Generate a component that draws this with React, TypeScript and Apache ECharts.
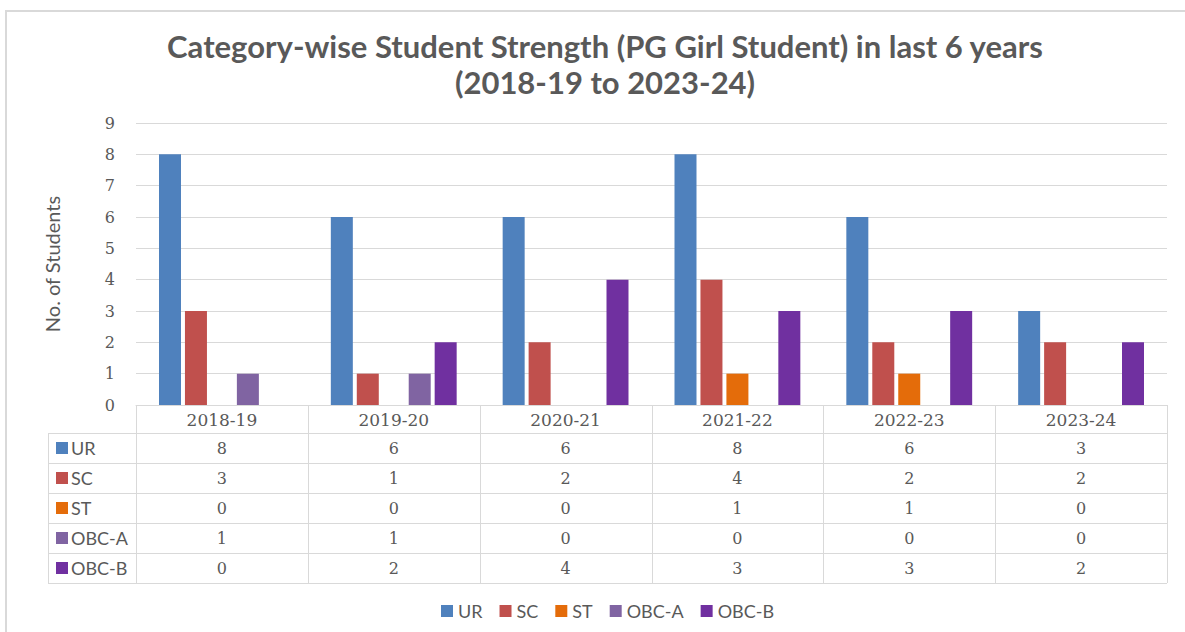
import React, { useEffect, useRef } from "react";
import * as echarts from "echarts";

const years = ["2018-19", "2019-20", "2020-21", "2021-22", "2022-23", "2023-24"];
const seriesNames = ["UR", "SC", "ST", "OBC-A", "OBC-B"];
const ur = [8, 6, 6, 8, 6, 3];
const sc = [3, 1, 2, 4, 2, 2];
const st = [0, 0, 0, 1, 1, 0];
const obcA = [1, 1, 0, 0, 0, 0];
const obcB = [0, 2, 4, 3, 3, 2];
const seriesColors = ["#4F81BD", "#C0504D", "#E46C0A", "#8064A2", "#7030A0"];
const yMin = 0;
const yMax = 9;
const yInterval = 1;

const W = 1185;
const H = 632;
const GRID_L = 136;
const GRID_R = 1167;
const GRID_T = 123;
const AXIS_Y = 405;
const HEADER_H = 28;
const ROW_H = 30;
const TABLE_L = 48;
const LINE_C = "#d9d9d9";
const TEXT_C = "#595959";
const SANS = "Lato, 'Noto Sans', sans-serif";
const SERIF = "'DejaVu Serif', serif";

export default function App() {
  const ref = useRef<HTMLDivElement>(null);
  useEffect(() => {
    if (!ref.current) return;
    const chart = echarts.init(ref.current, undefined, { renderer: "svg" });
    const allValues = [ur, sc, st, obcA, obcB];
    const colW = (GRID_R - GRID_L) / years.length;
    const rowsTop = AXIS_Y + HEADER_H;
    const tableBottom = rowsTop + ROW_H * seriesNames.length;

    const graphics: any[] = [];
    graphics.push({
      type: "rect",
      shape: { x: 6, y: 11, width: W + 20, height: H + 20 },
      style: { fill: "none", stroke: LINE_C, lineWidth: 2 },
      silent: true,
    });
    for (let i = 0; i <= years.length; i++) {
      const x = Math.round(GRID_L + i * colW) + 0.5;
      graphics.push({
        type: "line",
        shape: { x1: x, y1: AXIS_Y, x2: x, y2: tableBottom },
        style: { stroke: LINE_C, lineWidth: 1 },
        silent: true,
      });
    }
    graphics.push({
      type: "line",
      shape: { x1: TABLE_L + 0.5, y1: rowsTop, x2: TABLE_L + 0.5, y2: tableBottom },
      style: { stroke: LINE_C, lineWidth: 1 },
      silent: true,
    });
    for (let r = 0; r <= seriesNames.length; r++) {
      const y = rowsTop + r * ROW_H + 0.5;
      graphics.push({
        type: "line",
        shape: { x1: TABLE_L, y1: y, x2: GRID_R, y2: y },
        style: { stroke: LINE_C, lineWidth: 1 },
        silent: true,
      });
    }
    seriesNames.forEach((name, r) => {
      const cy = rowsTop + r * ROW_H + ROW_H / 2;
      graphics.push({
        type: "rect",
        shape: { x: TABLE_L + 8, y: cy - 6, width: 12, height: 12 },
        style: { fill: seriesColors[r] },
        silent: true,
      });
      graphics.push({
        type: "text",
        x: TABLE_L + 23,
        y: cy,
        style: {
          text: name,
          fill: TEXT_C,
          font: `18px ${SANS}`,
          verticalAlign: "middle",
          align: "left",
        },
        silent: true,
      });
      allValues[r].forEach((v, i) => {
        graphics.push({
          type: "text",
          x: GRID_L + (i + 0.5) * colW,
          y: cy,
          style: {
            text: String(v),
            fill: TEXT_C,
            font: `16px ${SERIF}`,
            verticalAlign: "middle",
            align: "center",
          },
          silent: true,
        });
      });
    });

    chart.setOption({
      animation: false,
      backgroundColor: "#ffffff",
      title: {
        text: "Category-wise Student Strength (PG Girl Student) in last 6 years\n(2018-19 to 2023-24)",
        left: 600,
        top: 23,
        textAlign: "center",
        textStyle: {
          fontFamily: SANS,
          fontSize: 31,
          fontWeight: "bold",
          color: TEXT_C,
          lineHeight: 36,
        },
      },
      legend: {
        bottom: 7,
        left: 436,
        itemWidth: 12,
        itemHeight: 12,
        itemGap: 17,
        icon: "rect",
        textStyle: { fontFamily: SANS, fontSize: 18, color: TEXT_C },
        data: seriesNames,
      },
      grid: {
        left: GRID_L,
        right: W - GRID_R,
        top: GRID_T,
        bottom: H - AXIS_Y,
        containLabel: false,
      },
      xAxis: {
        type: "category",
        data: years,
        axisLine: { show: true, lineStyle: { color: LINE_C, width: 1 } },
        axisTick: { show: false },
        axisLabel: {
          fontFamily: SERIF,
          fontSize: 17,
          color: TEXT_C,
          margin: 6,
        },
      },
      yAxis: {
        type: "value",
        min: yMin,
        max: yMax,
        interval: yInterval,
        name: "No. of Students",
        nameLocation: "middle",
        nameGap: 74,
        nameRotate: 90,
        nameTextStyle: { fontFamily: SANS, fontSize: 20, color: TEXT_C },
        axisLine: { show: false },
        axisTick: { show: false },
        axisLabel: { fontFamily: SERIF, fontSize: 16, color: TEXT_C, margin: 21 },
        splitLine: { lineStyle: { color: LINE_C, width: 1 } },
      },
      series: seriesNames.map((name, k) => ({
        name,
        type: "bar",
        data: allValues[k],
        barWidth: 22,
        barGap: "18%",
        itemStyle: { color: seriesColors[k] },
      })),
      graphic: graphics,
    });
    return () => chart.dispose();
  }, []);
  return (
    <div
      ref={ref}
      style={{ position: "fixed", left: 0, top: 0, width: W, height: H, background: "#fff" }}
    />
  );
}
